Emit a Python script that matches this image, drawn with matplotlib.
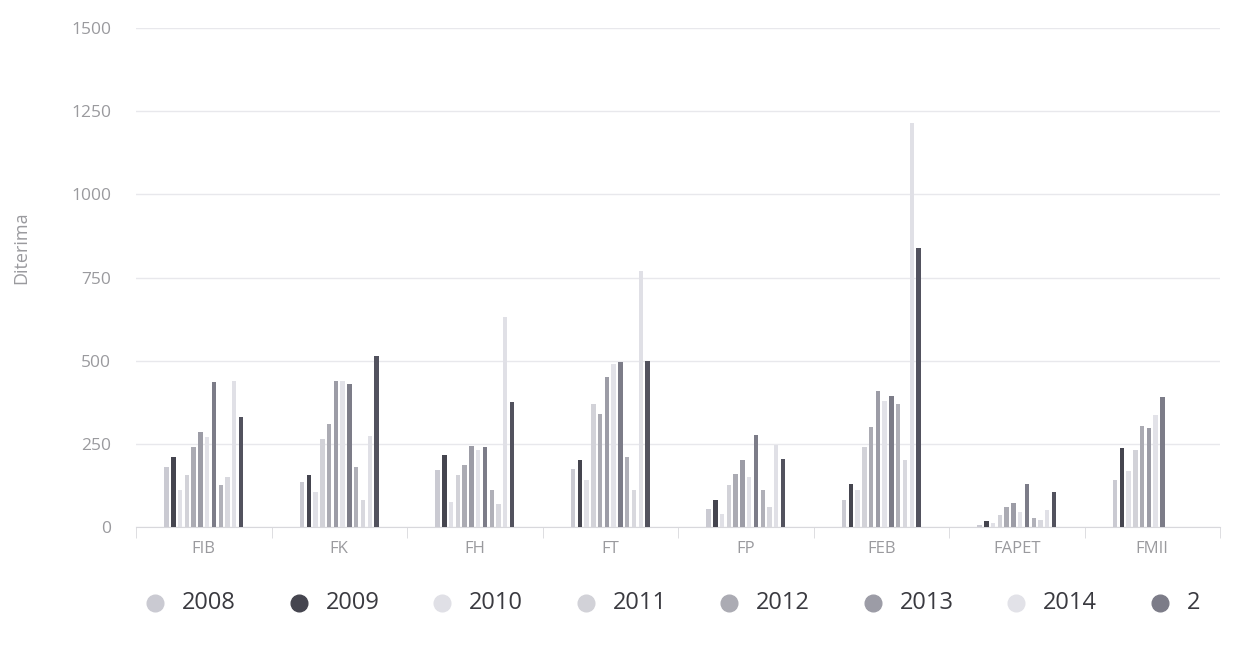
"""
Grouped bar chart: jumlah diterima per fakultas, 2008-2019
(scanned chart, right side cut off)
"""

import numpy as np
import matplotlib
matplotlib.use("Agg")
import matplotlib.pyplot as plt
from matplotlib.lines import Line2D

nan = np.nan

faculties = ['FIB', 'FK', 'FH', 'FT', 'FP', 'FEB', 'FAPET', 'FMII']
years = ['2008', '2009', '2010', '2011', '2012', '2013',
         '2014', '2015', '2016', '2017', '2018', '2019']

# values per year, one per faculty
v2008 = [180, 135, 170, 175, 55, 80, 5, 140]
v2009 = [210, 155, 215, 200, 82, 130, 18, 238]
v2010 = [110, 105, 75, 140, 40, 110, 12, 168]
v2011 = [155, 265, 155, 370, 125, 240, 35, 232]
v2012 = [240, 310, 185, 340, 158, 300, 60, 303]
v2013 = [285, 440, 245, 450, 200, 410, 72, 299]
v2014 = [270, 440, 230, 490, 150, 380, 45, 338]
v2015 = [435, 430, 240, 495, 277, 395, 130, 390]
v2016 = [125, 180, 110, 210, 110, 370, 28, nan]
v2017 = [150, 80, 70, 110, 60, 200, 20, nan]
v2018 = [440, 275, 630, 770, 248, 1215, 50, nan]
v2019 = [330, 515, 375, 500, 205, 838, 105, nan]

series = [v2008, v2009, v2010, v2011, v2012, v2013,
          v2014, v2015, v2016, v2017, v2018, v2019]

# legend is cut off in the original after the 8th entry
legend_labels = ['2008', '2009', '2010', '2011', '2012', '2013', '2014', '2']

yticks = [0, 250, 500, 750, 1000, 1250, 1500]

colors = ['#cacad2', '#45454f', '#e0e0e6', '#d2d2d8', '#ababb3', '#9c9ca6',
          '#e2e2e8', '#7c7c88', '#b0b0b8', '#d8d8de', '#e0e0e6', '#52525e']

plt.rcParams['font.family'] = ['Open Sans', 'DejaVu Sans']

fig = plt.figure(figsize=(12.38, 6.46), dpi=100)
ax = fig.add_axes([0.1099, 0.1842, 0.8756, 0.7724])

x = np.arange(len(faculties))
n = len(series)
slot = 0.6 / n
for i, vals in enumerate(series):
    off = -0.3 + slot * (i + 0.5)
    ax.bar(x + off, vals, width=slot * 0.65, color=colors[i], zorder=3)

ax.set_xlim(-0.5, 7.096)
ax.set_ylim(0, 1500)
ax.set_yticks(yticks)
ax.set_xticks(x)
ax.set_xticklabels(faculties)
ax.set_xticks(np.arange(len(faculties) + 1) - 0.5, minor=True)

ax.grid(axis='y', color='#e8e8ec', linewidth=1, zorder=0)
for s in ['top', 'right', 'left']:
    ax.spines[s].set_visible(False)
ax.spines['bottom'].set_color('#d8d8dc')

ax.tick_params(axis='y', length=0, pad=18, labelsize=12.5, labelcolor='#9a9a9e')
ax.tick_params(axis='x', which='major', length=0, pad=10, labelsize=12,
               labelcolor='#9a9a9e')
ax.tick_params(axis='x', which='minor', length=8, color='#d8d8dc')

ax.set_ylabel('Diterima', fontsize=13, color='#9a9a9e')
ax.yaxis.set_label_coords(-0.098, 0.56)

# legend drawn by hand, evenly spaced like the original
W, H = 1238.0, 646.0
for i, lab in enumerate(legend_labels):
    mx = 155 + 143.5 * i
    fig.add_artist(Line2D([mx / W], [1 - 603 / H], marker='o', markersize=12,
                          color=colors[i], linestyle='none',
                          transform=fig.transFigure))
    fig.text((mx + 27) / W, 1 - 603 / H, lab, fontsize=17, color='#3a3a40',
             va='center', ha='left')

fig.savefig('out.png', dpi=100)
